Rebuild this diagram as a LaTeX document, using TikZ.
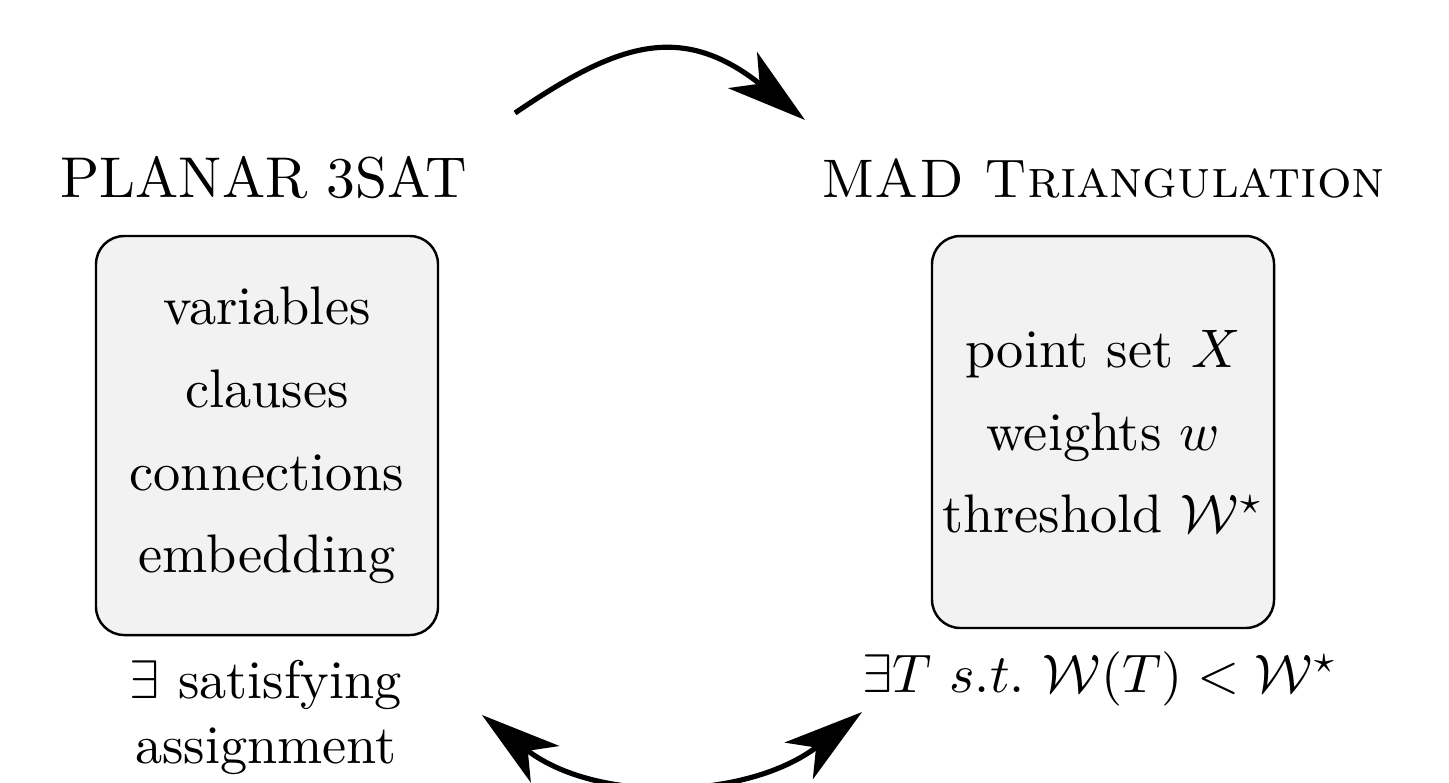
\documentclass[tikz,border=0pt]{standalone}
\usetikzlibrary{arrows.meta}
\begin{document}
\begin{tikzpicture}[x=0.1842pt,y=-0.1842pt,
  box/.style={draw=black, line width=0.45pt, fill=black!5, rounded corners=5.2pt, align=center, inner sep=0pt},
  lbl/.style={inner sep=0pt, align=center},
  tip/.tip={Stealth[length=14.7pt,width=8.5pt,inset=4pt]},
  conn/.style={line width=0.95pt, -tip},
  conn2/.style={line width=0.95pt, tip-tip},
]
\clip (0,0) rectangle (1449,782);
\node[lbl, anchor=base] (t1) at (264,197) {\fontsize{10.6pt}{12pt}\selectfont PLANAR 3SAT};
\node[lbl, anchor=base] (t2) at (1103,197) {\textsc{MAD Triangulation}};
\node[box, minimum width=63pt, minimum height=73.5pt] (b1) at (267,435.5)
  {variables\\[3.2pt]clauses\\[3.2pt]connections\\[3.2pt]embedding};
\node[box, minimum width=63pt, minimum height=72.2pt] (b2) at (1103,432)
  {point set $X$\\[3.2pt]weights $w$\\[3.2pt]threshold $\mathcal{W}^\star$};
\node[lbl, anchor=north] (s1) at (266,659) {$\exists$ satisfying\\assignment};
\node[lbl, anchor=base] (s2) at (1100,692) {$\exists T~s.t.~\mathcal{W}(T)<\mathcal{W}^\star$};
\coordinate (a1s) at (515,113);
\coordinate (a1e) at (805,120);
\coordinate (a2s) at (482,715);
\coordinate (a2e) at (862,712);
\draw[conn] (a1s) .. controls (615,45) and (680,20) .. (a1e);
\draw[conn2] (a2s) .. controls (596,804) and (748,800) .. (a2e);
\end{tikzpicture}
\end{document}
